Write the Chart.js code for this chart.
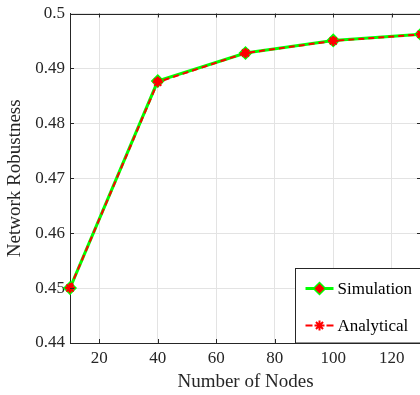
<!DOCTYPE html>
<html>
<head>
<meta charset="utf-8">
<script src="https://cdn.jsdelivr.net/npm/chart.js@4.4.0/dist/chart.umd.min.js"></script>
<style>
html, body { margin: 0; padding: 0; overflow: hidden; background: #fff; }
#robustChart { display: block; }
</style>
</head>
<body>
<canvas id="robustChart" width="430" height="395"></canvas>
<script>
var nodes = [10, 40, 70, 100, 130];
var simulation = [0.4500, 0.4877, 0.4928, 0.4951, 0.4962];
var analytical = [0.4500, 0.4875, 0.4928, 0.4950, 0.4962];
var xTicks = [20, 40, 60, 80, 100, 120];
var yTicks = [0.44, 0.45, 0.46, 0.47, 0.48, 0.49, 0.5];
var seriesNames = ['Simulation', 'Analytical'];

var axisColor = '#262626';
var gridColor = '#e3e3e3';
var serif = "'Liberation Serif', 'Times New Roman', serif";

function toPoints(ys) {
    return nodes.map(function (x, i) { return {x: x, y: ys[i]}; });
}

// box on top/right, inward tick marks and the legend inside the axes (matlab look)
var boxPlugin = {
    id: 'matlabBox',
    afterDatasetsDraw: function (chart) {
        var ctx = chart.ctx;
        var a = chart.chartArea;
        var xs = chart.scales.x, ys = chart.scales.y;
        var tl = 4;
        ctx.save();
        ctx.strokeStyle = axisColor;
        ctx.lineWidth = 1;
        ctx.beginPath();
        ctx.moveTo(a.left, Math.round(a.top) + 0.5);
        ctx.lineTo(a.right, Math.round(a.top) + 0.5);
        ctx.moveTo(Math.round(a.right) + 0.5, a.top);
        ctx.lineTo(Math.round(a.right) + 0.5, a.bottom);
        xTicks.forEach(function (v) {
            var px = Math.round(xs.getPixelForValue(v)) + 0.5;
            ctx.moveTo(px, a.bottom); ctx.lineTo(px, a.bottom - tl);
            ctx.moveTo(px, a.top); ctx.lineTo(px, a.top + tl);
        });
        yTicks.forEach(function (v) {
            var py = Math.round(ys.getPixelForValue(v)) + 0.5;
            ctx.moveTo(a.left, py); ctx.lineTo(a.left + tl, py);
            ctx.moveTo(a.right, py); ctx.lineTo(a.right - tl, py);
        });
        ctx.stroke();

        // legend
        var lx = Math.round(a.left + 225) + 0.5;
        var ly = Math.round(a.bottom - 75) + 0.5;
        ctx.fillStyle = '#fff';
        ctx.fillRect(lx, ly, 200, a.bottom - ly);
        ctx.strokeRect(lx, ly, 200, a.bottom - ly);

        var rows = [ly + 20, ly + 57];
        var sx0 = lx + 10, sx1 = lx + 38, smid = (sx0 + sx1) / 2;
        chart.data.datasets.forEach(function (ds, i) {
            var ry = rows[i];
            ctx.save();
            ctx.strokeStyle = ds.borderColor;
            ctx.lineWidth = ds.borderWidth;
            if (ds.borderDash) ctx.setLineDash([7, 14]);
            ctx.beginPath();
            ctx.moveTo(sx0, ry); ctx.lineTo(sx1, ry);
            ctx.stroke();
            ctx.restore();

            ctx.save();
            ctx.fillStyle = ds.pointBackgroundColor;
            ctx.strokeStyle = ds.pointBorderColor;
            ctx.lineWidth = ds.pointBorderWidth;
            Chart.helpers.drawPoint(ctx, {
                pointStyle: ds.pointStyle,
                radius: ds.pointRadius,
                borderWidth: ds.pointBorderWidth,
                rotation: 0
            }, smid, ry);
            ctx.restore();

            ctx.fillStyle = '#000';
            ctx.font = '17px ' + serif;
            ctx.textBaseline = 'middle';
            ctx.textAlign = 'left';
            ctx.fillText(ds.label, sx1 + 4, ry + 1);
        });
        ctx.restore();
    }
};

var simulationSet = {
    label: seriesNames[0],
    data: toPoints(simulation),
    order: 1,
    borderColor: '#00ff00',
    borderWidth: 3,
    pointStyle: 'rectRot',
    pointRadius: 6,
    pointBackgroundColor: '#ff0000',
    pointBorderColor: '#00ff00',
    pointBorderWidth: 1.5,
    clip: false
};

var analyticalSet = {
    label: seriesNames[1],
    data: toPoints(analytical),
    order: 0,
    borderColor: '#ff0000',
    borderWidth: 2,
    borderDash: [6, 4],
    pointStyle: 'star',
    pointRadius: 5,
    pointBackgroundColor: '#ff0000',
    pointBorderColor: '#ff0000',
    pointBorderWidth: 2,
    clip: false
};

var config = {
    type: 'line',
    data: {
        datasets: [simulationSet, analyticalSet]
    },
    options: {
        responsive: false,
        animation: false,
        layout: {
            padding: {top: 9, right: 9, left: 0, bottom: 0}
        },
        scales: {
            x: {
                type: 'linear',
                min: 10,
                max: 130,
                afterBuildTicks: function (scale) {
                    scale.ticks = xTicks.map(function (v) { return {value: v}; });
                },
                afterFit: function (scale) { scale.height = 52; },
                grid: {color: gridColor, drawTicks: false},
                border: {color: axisColor, width: 1},
                ticks: {
                    color: axisColor,
                    padding: 7,
                    maxRotation: 0,
                    font: {family: serif, size: 17, lineHeight: 1}
                },
                title: {
                    display: true,
                    text: 'Number of Nodes',
                    color: axisColor,
                    padding: {top: 2, bottom: 2},
                    font: {family: serif, size: 19, lineHeight: 1.2}
                }
            },
            y: {
                type: 'linear',
                min: 0.44,
                max: 0.5,
                afterBuildTicks: function (scale) {
                    scale.ticks = yTicks.map(function (v) { return {value: v}; });
                },
                afterFit: function (scale) { scale.width = 70; },
                grid: {color: gridColor, drawTicks: false},
                border: {color: axisColor, width: 1},
                ticks: {
                    color: axisColor,
                    padding: 5,
                    font: {family: serif, size: 17, lineHeight: 1},
                    callback: function (v) { return String(+v.toFixed(2)); }
                },
                title: {
                    display: true,
                    text: 'Network Robustness',
                    color: axisColor,
                    padding: {top: 4, bottom: 4},
                    font: {family: serif, size: 19, lineHeight: 1.2}
                }
            }
        },
        plugins: {
            legend: {display: false},
            tooltip: {enabled: false}
        }
    },
    plugins: [boxPlugin]
};

var ctx = document.getElementById('robustChart').getContext('2d');
var chart = new Chart(ctx, config);
</script>
</body>
</html>
